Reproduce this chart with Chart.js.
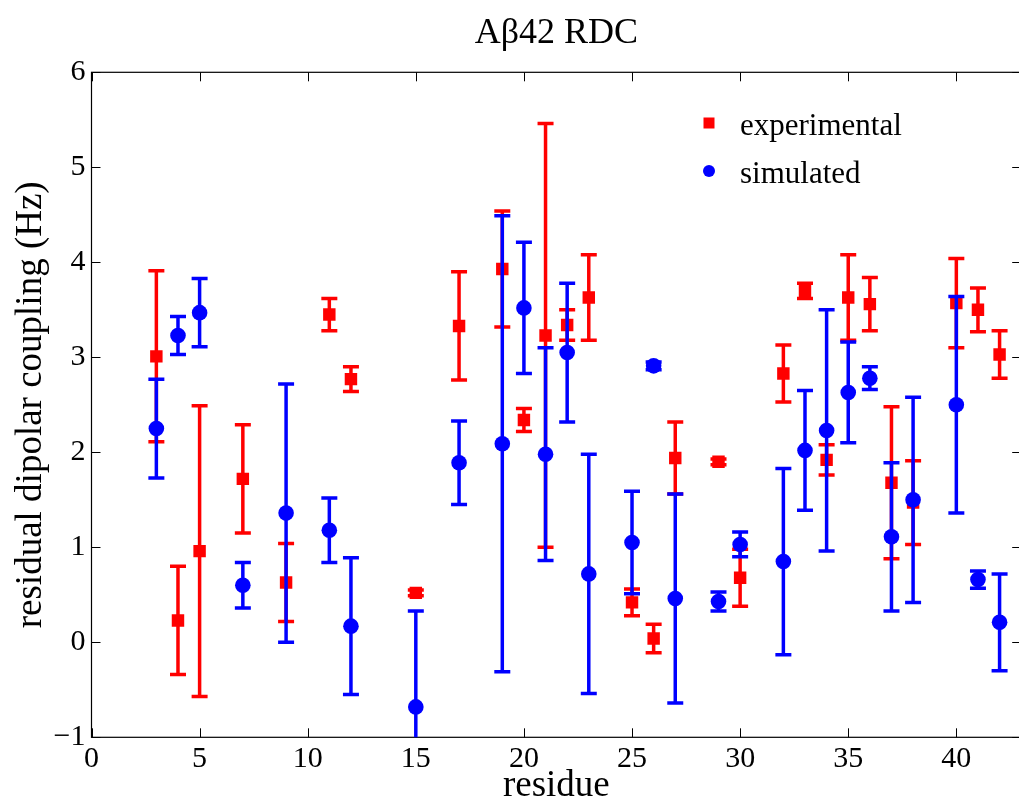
<!DOCTYPE html>
<html>
<head>
<meta charset="utf-8">
<title>Aβ42 RDC</title>
<script src="https://cdn.jsdelivr.net/npm/chart.js@4.4.1/dist/chart.umd.min.js"></script>
<style>
  html, body { margin: 0; padding: 0; background: #fff; overflow: hidden; }
  #wrap { width: 1030px; height: 808px; }
</style>
</head>
<body>
<div id="wrap"><canvas id="rdc" width="1030" height="808"></canvas></div>
<script>
const TITLE = "Aβ42 RDC";
const X_TITLE = "residue";
const Y_TITLE = "residual dipolar coupling (Hz)";

const residues = [3, 4, 5, 7, 9, 11, 12, 15, 17, 19, 20, 21, 22, 23, 25, 26, 27, 29, 30, 32, 33, 34, 35, 36, 37, 38, 40, 41, 42];

const expValues = [3.01, 0.23, 0.96, 1.72, 0.63, 3.45, 2.77, 0.52, 3.33, 3.93, 2.34, 3.23, 3.34, 3.63, 0.42, 0.04, 1.94, 1.90, 0.68, 2.83, 3.70, 1.92, 3.63, 3.56, 1.68, 1.47, 3.57, 3.50, 3.03];
const expErrors = [0.90, 0.57, 1.53, 0.57, 0.41, 0.17, 0.13, 0.03, 0.57, 0.61, 0.12, 2.23, 0.16, 0.45, 0.14, 0.15, 0.38, 0.03, 0.30, 0.30, 0.08, 0.16, 0.45, 0.28, 0.80, 0.44, 0.47, 0.23, 0.25];

const simValues = [2.25, 3.23, 3.47, 0.60, 1.36, 1.18, 0.17, -0.68, 1.89, 2.09, 3.52, 1.98, 3.05, 0.72, 1.05, 2.91, 0.46, 0.43, 1.03, 0.85, 2.02, 2.23, 2.63, 2.78, 1.11, 1.50, 2.50, 0.66, 0.21];
const simErrors = [0.52, 0.20, 0.36, 0.24, 1.36, 0.34, 0.72, 1.01, 0.44, 2.40, 0.69, 1.12, 0.73, 1.26, 0.54, 0.04, 1.10, 0.10, 0.13, 0.98, 0.63, 1.27, 0.53, 0.12, 0.78, 1.08, 1.14, 0.09, 0.51];

const xTicks = [0, 5, 10, 15, 20, 25, 30, 35, 40];
const yTicks = [-1, 0, 1, 2, 3, 4, 5, 6];

const SERIF = "'Liberation Serif', 'DejaVu Serif', serif";

// vertical error bars with caps, drawn under each dataset's markers
const errorBars = {
  id: "errorBars",
  beforeDatasetDraw(chart, args) {
    const ds = chart.data.datasets[args.index];
    if (!ds.errors) {
      return;
    }
    const { ctx, chartArea, scales: { x, y } } = chart;
    ctx.save();
    ctx.beginPath();
    ctx.rect(chartArea.left, chartArea.top, chartArea.width, chartArea.height);
    ctx.clip();
    ctx.strokeStyle = ds.borderColor;
    ctx.lineWidth = 3.5;
    ds.data.forEach((p, i) => {
      const px = x.getPixelForValue(p.x);
      const top = y.getPixelForValue(p.y + ds.errors[i]);
      const bot = y.getPixelForValue(p.y - ds.errors[i]);
      ctx.beginPath();
      ctx.moveTo(px, top);
      ctx.lineTo(px, bot);
      ctx.moveTo(px - 8, top);
      ctx.lineTo(px + 8, top);
      ctx.moveTo(px - 8, bot);
      ctx.lineTo(px + 8, bot);
      ctx.stroke();
    });
    ctx.restore();
  },
};

// matlab style box with inward ticks on every side
const axesBox = {
  id: "axesBox",
  beforeDatasetsDraw(chart) {
    const { ctx, chartArea: a, scales: { x, y } } = chart;
    ctx.save();
    ctx.strokeStyle = "#000";
    ctx.lineWidth = 1.2;
    ctx.strokeRect(a.left, a.top, a.right - a.left, a.bottom - a.top);
    ctx.lineWidth = 1;
    ctx.beginPath();
    xTicks.forEach((v) => {
      const px = Math.round(x.getPixelForValue(v)) + 0.5;
      ctx.moveTo(px, a.bottom);
      ctx.lineTo(px, a.bottom - 9);
      ctx.moveTo(px, a.top);
      ctx.lineTo(px, a.top + 9);
    });
    yTicks.forEach((v) => {
      const py = Math.round(y.getPixelForValue(v)) + 0.5;
      ctx.moveTo(a.left, py);
      ctx.lineTo(a.left + 9, py);
      ctx.moveTo(a.right, py);
      ctx.lineTo(a.right - 9, py);
    });
    ctx.stroke();
    ctx.restore();
  },
  afterDraw(chart) {
    const { ctx, chartArea: a } = chart;
    ctx.save();
    ctx.fillStyle = "#000";
    ctx.font = `36px ${SERIF}`;
    ctx.textAlign = "center";
    ctx.textBaseline = "middle";
    ctx.fillText(TITLE, (a.left + a.right) / 2, 34);

    // legend inside the axes, top right
    ctx.font = `31px ${SERIF}`;
    ctx.textAlign = "left";
    ctx.textBaseline = "alphabetic";
    chart.data.datasets.forEach((ds, i) => {
      const cy = 123 + i * 48;
      ctx.fillStyle = ds.backgroundColor;
      if (ds.pointStyle === "rect") {
        ctx.fillRect(703.5, cy - 5.5, 11, 11);
      } else {
        ctx.beginPath();
        ctx.arc(709, cy, 6, 0, Math.PI * 2);
        ctx.fill();
      }
      ctx.fillStyle = "#000";
      ctx.fillText(ds.label, 740, cy + 12);
    });
    ctx.restore();
  },
};

const canvas = document.getElementById("rdc");

new Chart(canvas, {
  type: "scatter",
  data: {
    datasets: [
      {
        label: "experimental",
        data: residues.map((r, i) => ({ x: r, y: expValues[i] })),
        errors: expErrors,
        borderColor: "#ff0000",
        backgroundColor: "#ff0000",
        pointStyle: "rect",
        pointRadius: 8.8,
        pointBorderWidth: 0,
        order: 2,
      },
      {
        label: "simulated",
        data: residues.map((r, i) => ({ x: r, y: simValues[i] })),
        errors: simErrors,
        borderColor: "#0000ff",
        backgroundColor: "#0000ff",
        pointStyle: "circle",
        pointRadius: 7.8,
        pointBorderWidth: 0,
        order: 1,
      },
    ],
  },
  options: {
    responsive: false,
    animation: false,
    events: [],
    layout: {
      padding: { top: 72.3, right: 4.7, left: 0, bottom: 0 },
    },
    plugins: {
      legend: { display: false },
      title: { display: false },
      tooltip: { enabled: false },
    },
    scales: {
      x: {
        type: "linear",
        min: 0,
        max: 43,
        afterBuildTicks: (scale) => {
          scale.ticks = xTicks.map((v) => ({ value: v }));
        },
        afterFit: (scale) => {
          scale.height = 70.7;
        },
        grid: { display: false, drawTicks: false },
        border: { display: false },
        ticks: {
          color: "#000",
          padding: 4,
          maxRotation: 0,
          font: { family: SERIF, size: 30, lineHeight: 1.2 },
        },
        title: {
          display: true,
          text: X_TITLE,
          color: "#000",
          padding: { top: 0, bottom: 0 },
          font: { family: SERIF, size: 37, lineHeight: 1.2 },
        },
      },
      y: {
        type: "linear",
        min: -1,
        max: 6,
        afterBuildTicks: (scale) => {
          scale.ticks = yTicks.map((v) => ({ value: v }));
        },
        afterFit: (scale) => {
          scale.width = 91.5;
        },
        grid: { display: false, drawTicks: false },
        border: { display: false },
        ticks: {
          color: "#000",
          padding: 6,
          font: { family: SERIF, size: 30, lineHeight: 1.2 },
          callback: (v) => String(v).replace("-", "\u2212"),
        },
        title: {
          display: true,
          text: Y_TITLE,
          color: "#000",
          padding: { top: 9, bottom: 0 },
          font: { family: SERIF, size: 37, lineHeight: 1.2 },
        },
      },
    },
  },
  plugins: [errorBars, axesBox],
});
</script>
</body>
</html>
